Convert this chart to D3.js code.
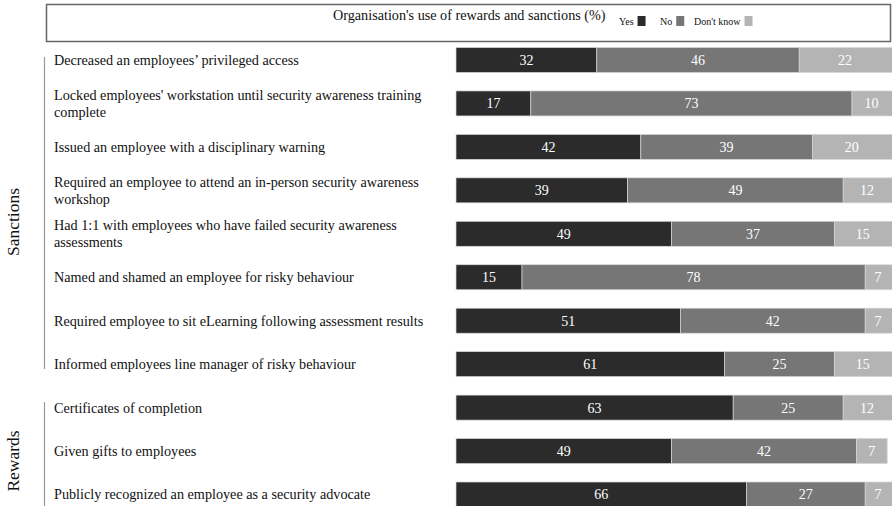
<!DOCTYPE html>
<html>
<head>
<meta charset="utf-8">
<script src="https://cdn.jsdelivr.net/npm/d3@7"></script>
<style>
  body { margin: 0; background: #fff; }
  text { font-family: "Liberation Serif", "DejaVu Serif", serif; }
</style>
</head>
<body>
<div id="chart"></div>
<script>
var labels = [
  "Decreased an employees\u2019 privileged access",
  "Locked employees' workstation until security awareness training\ncomplete",
  "Issued an employee with a disciplinary warning",
  "Required an employee to attend an in-person security awareness\nworkshop",
  "Had 1:1 with employees who have failed security awareness\nassessments",
  "Named and shamed an employee for risky behaviour",
  "Required employee to sit eLearning following assessment results",
  "Informed employees line manager of risky behaviour",
  "Certificates of completion",
  "Given gifts to employees",
  "Publicly recognized an employee as a security advocate"
];
var yesVals = [32, 17, 42, 39, 49, 15, 51, 61, 63, 49, 66];
var noVals = [46, 73, 39, 49, 37, 78, 42, 25, 25, 42, 27];
var dkVals = [22, 10, 20, 12, 15, 7, 7, 15, 12, 7, 7];
var seriesNames = ["Yes", "No", "Don't know"];
var groups = [
  { name: "Sanctions", from: 0, to: 7 },
  { name: "Rewards", from: 8, to: 10 }
];
var title = "Organisation's use of rewards and sanctions (%)";

var width = 892, height = 506;
var colors = ["#2b2b2b", "#767676", "#b4b4b4"];

var svg = d3.select("#chart")
  .append("svg")
  .attr("width", width)
  .attr("height", height);

// build rows for the stack
var rows = labels.map(function(l, i) {
  return { label: l, "Yes": yesVals[i], "No": noVals[i], "Don't know": dkVals[i] };
});
var stacked = d3.stack().keys(seriesNames)(rows);

var x = d3.scaleLinear().domain([0, 100]).range([456, 896]);
var y = d3.scalePoint().domain(d3.range(labels.length)).range([60, 494.5]);
var barH = 25;

// header box with title and legend
svg.append("rect")
  .attr("x", 46.5).attr("y", 4.5)
  .attr("width", 844).attr("height", 37)
  .attr("fill", "none")
  .attr("stroke", "#666")
  .attr("stroke-width", 1.5);

svg.append("text")
  .attr("x", 333).attr("y", 20)
  .style("font-size", "14.2px")
  .attr("fill", "#111")
  .text(title);

var legendX = [619, 660, 694];
var legend = svg.append("g");
seriesNames.forEach(function(s, i) {
  var t = legend.append("text")
    .attr("x", legendX[i]).attr("y", 25)
    .style("font-size", "10px")
    .attr("fill", "#111")
    .text(s);
  var w = t.node().getComputedTextLength();
  legend.append("rect")
    .attr("x", legendX[i] + w + 4).attr("y", 16)
    .attr("width", 8).attr("height", 10)
    .attr("fill", colors[i]);
});

// stacked bars
stacked.forEach(function(layer, si) {
  var g = svg.append("g");
  g.selectAll("rect")
    .data(layer)
    .join("rect")
      .attr("x", function(d) { return x(d[0]); })
      .attr("y", function(d, i) { return y(i) - barH / 2; })
      .attr("width", function(d) { return x(d[1]) - x(d[0]); })
      .attr("height", barH)
      .attr("fill", colors[si])
      .attr("stroke", "#d6d6d6")
      .attr("stroke-width", 0.7);

  g.selectAll("text")
    .data(layer)
    .join("text")
      .attr("x", function(d) { return (x(d[0]) + Math.min(x(d[1]), 891)) / 2; })
      .attr("y", function(d, i) { return y(i); })
      .attr("dy", "0.35em")
      .attr("text-anchor", "middle")
      .style("font-size", "14px")
      .attr("fill", "#fff")
      .text(function(d) { return d[1] - d[0]; });
});

// row labels
labels.forEach(function(l, i) {
  var lines = l.split("\n");
  var t = svg.append("text")
    .attr("x", 54)
    .attr("y", y(i) - (lines.length - 1) * 8.3)
    .style("font-size", "14.2px")
    .attr("fill", "#111");
  lines.forEach(function(line, k) {
    t.append("tspan")
      .attr("x", 54)
      .attr("dy", k === 0 ? "0.35em" : "16.6px")
      .text(line);
  });
});

// group brackets and names
var bracket = { Sanctions: [57, 369], Rewards: [402, 506] };
var groupY = { Sanctions: 222, Rewards: 461 };
groups.forEach(function(gr) {
  svg.append("line")
    .attr("x1", 44.5).attr("x2", 44.5)
    .attr("y1", bracket[gr.name][0]).attr("y2", bracket[gr.name][1])
    .attr("stroke", "#999")
    .attr("stroke-width", 1.2);
  svg.append("text")
    .attr("transform", "translate(19," + groupY[gr.name] + ") rotate(-90)")
    .attr("text-anchor", "middle")
    .style("font-size", "17.5px")
    .attr("fill", "#111")
    .text(gr.name);
});
</script>
</body>
</html>
